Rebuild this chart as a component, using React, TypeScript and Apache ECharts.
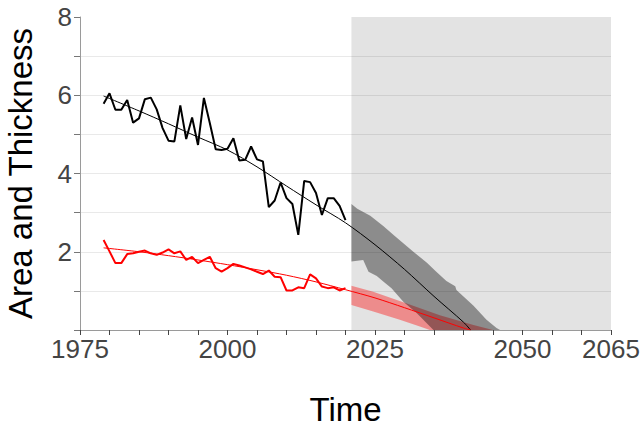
import React, { useEffect, useRef } from "react";
import * as echarts from "echarts";

const years = [1979, 1980, 1981, 1982, 1983, 1984, 1985, 1986, 1987, 1988, 1989, 1990, 1991, 1992, 1993, 1994, 1995, 1996, 1997, 1998, 1999, 2000, 2001, 2002, 2003, 2004, 2005, 2006, 2007, 2008, 2009, 2010, 2011, 2012, 2013, 2014, 2015, 2016, 2017, 2018, 2019, 2020];
const blackValues = [5.78, 6.05, 5.63, 5.63, 5.88, 5.3, 5.41, 5.9, 5.94, 5.64, 5.16, 4.84, 4.82, 5.74, 4.88, 5.43, 4.73, 5.93, 5.29, 4.62, 4.6, 4.63, 4.9, 4.33, 4.35, 4.69, 4.36, 4.31, 3.14, 3.31, 3.77, 3.37, 3.22, 2.43, 3.81, 3.78, 3.5, 2.94, 3.37, 3.37, 3.17, 2.81];
const redValues = [2.3, 2.01, 1.71, 1.71, 1.94, 1.96, 2.0, 2.03, 1.96, 1.92, 1.98, 2.06, 1.96, 2.01, 1.79, 1.87, 1.71, 1.79, 1.87, 1.58, 1.49, 1.58, 1.69, 1.65, 1.6, 1.55, 1.49, 1.43, 1.52, 1.36, 1.35, 1.01, 1.01, 1.09, 1.07, 1.42, 1.32, 1.11, 1.07, 1.09, 1.01, 1.07];

const trendYears = [1979, 1985, 1990, 1995, 2000, 2005, 2010, 2015, 2020, 2025, 2030, 2035, 2040, 2041.2];
const blackTrendValues = [5.98, 5.6, 5.27, 4.93, 4.6, 4.17, 3.68, 3.2, 2.74, 2.18, 1.55, 0.86, 0.2, 0];
const redTrendValues = [2.1, 2.0, 1.9, 1.79, 1.67, 1.54, 1.4, 1.23, 1.03, 0.82, 0.57, 0.31, 0.05, 0];

const greyUpperYears = [2021, 2022, 2024.2, 2026.4, 2028.3, 2029.6, 2031.5, 2033.8, 2035.3, 2037.1, 2038.6, 2038.8, 2041.7, 2043.9, 2045.6, 2046.2];
const greyUpperValues = [3.22, 3.1, 2.92, 2.66, 2.41, 2.24, 2.0, 1.72, 1.5, 1.25, 1.12, 1.02, 0.62, 0.26, 0.05, 0];
const greyLowerYears = [2021, 2023, 2023.9, 2025.3, 2026.4, 2027.8, 2029.8, 2032.1, 2034.9];
const greyLowerValues = [1.75, 1.79, 1.49, 1.38, 1.24, 1.07, 0.72, 0.43, 0];
const redUpperYears = [2021, 2024.7, 2030.4, 2036, 2041.7, 2045];
const redUpperValues = [1.13, 0.98, 0.68, 0.38, 0.13, 0];
const redLowerYears = [2021, 2024.7, 2029.2, 2032.6, 2034.3];
const redLowerValues = [0.64, 0.47, 0.26, 0.09, 0];

const projectionStart = 2021;
const xMin = 1975;
const xMax = 2065;
const yMin = 0;
const yMax = 8;
const xLabelYears = [1975, 2000, 2025, 2050, 2065];
const yLabelValues = [2, 4, 6, 8];

const FONT = "'Liberation Sans', Arial, Helvetica, sans-serif";

function pairs(xs: number[], ys: number[]) {
  return xs.map((x, i) => [x, ys[i]]);
}

function bandSeries(name: string, upX: number[], upY: number[], loX: number[], loY: number[], fill: string, z: number) {
  return {
    type: "custom",
    name,
    silent: true,
    z,
    data: [[upX[0], upY[0]]],
    encode: { x: 0, y: 1 },
    renderItem: (_params: any, api: any) => {
      const pts: number[][] = [];
      for (let i = 0; i < upX.length; i++) pts.push(api.coord([upX[i], upY[i]]));
      for (let i = loX.length - 1; i >= 0; i--) pts.push(api.coord([loX[i], loY[i]]));
      return { type: "polygon", shape: { points: pts }, style: { fill } };
    },
  };
}

export default function App() {
  const ref = useRef<HTMLDivElement>(null);
  useEffect(() => {
    if (!ref.current) return;
    const chart = echarts.init(ref.current, null, { renderer: "svg" });
    const splitColors = ["rgba(0,0,0,0)", "#e9e9e9", "#e9e9e9", "#e9e9e9", "#e9e9e9", "#e9e9e9", "#e9e9e9", "#e9e9e9", "rgba(0,0,0,0)"];
    chart.setOption({
      animation: false,
      backgroundColor: "#ffffff",
      grid: { left: 80, right: 32, top: 17, bottom: 97, containLabel: false, outerBoundsMode: "none" },
      xAxis: {
        type: "value",
        min: xMin,
        max: xMax,
        interval: 5,
        name: "Time",
        nameLocation: "middle",
        nameGap: 63,
        nameTextStyle: { fontFamily: FONT, fontSize: 33, color: "#000" },
        axisLine: { show: true, lineStyle: { color: "#9a9a9a", width: 1 } },
        axisTick: { show: true, length: 5, lineStyle: { color: "#444", width: 1 } },
        axisLabel: {
          margin: 6,
          fontFamily: FONT,
          fontSize: 26,
          color: "#444",
          formatter: (v: number) => (xLabelYears.includes(v) ? String(v) : ""),
        },
        splitLine: { show: false },
      },
      yAxis: {
        type: "value",
        min: yMin,
        max: yMax,
        interval: 1,
        name: "Area and Thickness",
        nameLocation: "middle",
        nameGap: 43,
        nameTextStyle: { fontFamily: FONT, fontSize: 33, color: "#000" },
        axisLine: { show: true, lineStyle: { color: "#9a9a9a", width: 1 } },
        axisTick: { show: true, length: 6, lineStyle: { color: "#777", width: 1 } },
        axisLabel: {
          margin: 8,
          fontFamily: FONT,
          fontSize: 26,
          color: "#444",
          formatter: (v: number) => (yLabelValues.includes(v) ? String(v) : ""),
        },
        splitLine: { show: true, lineStyle: { color: splitColors, width: 1 } },
      },
      series: [
        {
          type: "custom",
          name: "projection",
          silent: true,
          z: 1,
          data: [[projectionStart, yMax]],
          encode: { x: 0, y: 1 },
          renderItem: (_p: any, api: any) => {
            const a = api.coord([projectionStart, yMax]);
            const b = api.coord([xMax, yMin]);
            return { type: "rect", shape: { x: a[0], y: a[1], width: b[0] - a[0], height: b[1] - a[1] }, style: { fill: "rgba(0,0,0,0.11)" } };
          },
        },
        bandSeries("red band", redUpperYears, redUpperValues, redLowerYears, redLowerValues, "rgba(255,0,0,0.38)", 2),
        bandSeries("grey band", greyUpperYears, greyUpperValues, greyLowerYears, greyLowerValues, "rgba(0,0,0,0.38)", 3),
        {
          type: "line",
          name: "black trend",
          z: 4,
          data: pairs(trendYears, blackTrendValues),
          smooth: 0.3,
          symbol: "none",
          silent: true,
          lineStyle: { color: "#000", width: 1 },
        },
        {
          type: "line",
          name: "red trend",
          z: 4,
          data: pairs(trendYears, redTrendValues),
          smooth: 0.3,
          symbol: "none",
          silent: true,
          lineStyle: { color: "#ff0000", width: 1 },
        },
        {
          type: "line",
          name: "black",
          z: 5,
          data: pairs(years, blackValues),
          symbol: "none",
          silent: true,
          lineStyle: { color: "#000", width: 2 },
        },
        {
          type: "line",
          name: "red",
          z: 5,
          data: pairs(years, redValues),
          symbol: "none",
          silent: true,
          lineStyle: { color: "#ff0000", width: 2 },
        },
      ],
    });
    return () => chart.dispose();
  }, []);
  return <div ref={ref} style={{ position: "fixed", left: 0, top: 0, width: 643, height: 427 }} />;
}
